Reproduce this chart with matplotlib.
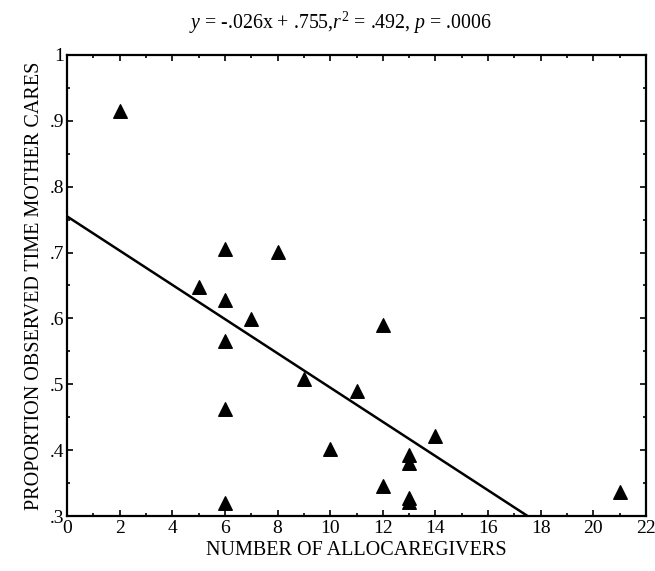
import matplotlib
matplotlib.use("Agg")
import matplotlib.pyplot as plt
import numpy as np

plt.rcParams['font.family'] = ['Liberation Serif', 'DejaVu Serif']
plt.rcParams['mathtext.fontset'] = 'custom'
plt.rcParams['mathtext.rm'] = 'Liberation Serif'
plt.rcParams['mathtext.it'] = 'Liberation Serif:italic'

# datos
allocaregivers = [2, 5, 6, 6, 6, 6, 6, 7, 8, 9, 10, 11, 12, 12, 13, 13, 13, 13, 14, 21]
prop_mother = [.915, .647, .705, .628, .566, .462, .320, .599, .701, .508,
               .402, .490, .590, .346, .393, .380, .327, .322, .422, .336]

pendiente = -.026
intercepto = .755

fig = plt.figure(figsize=(6.55, 5.71), dpi=100)
ax = fig.add_axes([0.1023, 0.0963, 0.8840, 0.8074])

# recta de ajuste
xl = np.array([0, (0.3 - intercepto) / pendiente])
ax.plot(xl, pendiente * xl + intercepto, color="black", lw=1.8)

ax.scatter(allocaregivers, prop_mother, marker="^", s=95, color="black", zorder=3, clip_on=False)

ax.set_xlim(0, 22)
ax.set_ylim(.3, 1)
ax.set_xticks(np.arange(0, 23, 2))
ax.set_xticklabels([str(v) for v in range(0, 23, 2)])
ax.set_xticks(np.arange(1, 22, 2), minor=True)
yt = [.3, .4, .5, .6, .7, .8, .9, 1]
ax.set_yticks(yt)
ax.set_yticklabels([".3", ".4", ".5", ".6", ".7", ".8", ".9", "1"])
ax.set_yticks(np.arange(.35, 1, .1), minor=True)

ax.tick_params(which="both", direction="in", top=True, right=True, labelsize=14, width=1.2)
ax.tick_params(axis="x", pad=3)
ax.tick_params(axis="y", pad=2)
ax.tick_params(which="major", length=4)
ax.tick_params(which="minor", length=2)
for s in ax.spines.values():
    s.set_linewidth(1.6)

ax.set_xlabel("NUMBER OF ALLOCAREGIVERS", fontsize=14.5, labelpad=3)
ax.set_ylabel("PROPORTION OBSERVED TIME MOTHER CARES", fontsize=14.5, labelpad=4)
fig.text(0.52, 0.96, r"$y$ = -.026x + .755,$r^2$ = .492, $p$ = .0006", ha="center", va="center", fontsize=14.3)

plt.savefig("out.png", dpi=100)
